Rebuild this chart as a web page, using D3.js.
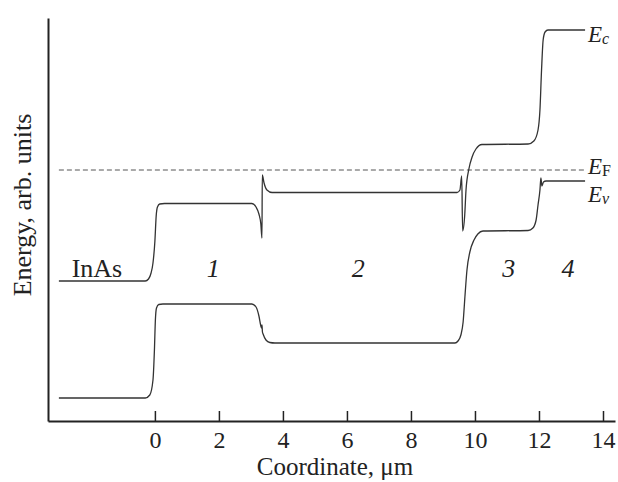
<!DOCTYPE html>
<html>
<head>
<meta charset="utf-8">
<script src="https://cdn.jsdelivr.net/npm/d3@7"></script>
<style>
  body { margin: 0; background: #fff; }
  svg text { font-family: "Liberation Serif", "Times New Roman", serif; fill: #222; }
  .band { fill: none; stroke: #333; stroke-width: 1.3; }
  .fermi { fill: none; stroke: #555; stroke-width: 1; stroke-dasharray: 5,3; }
</style>
</head>
<body>
<div id="chart"></div>
<script>
// conduction band edge, [coordinate um, energy arb. units]
var ecPoints = [
  [-3.0, 1.40], [-0.3, 1.40], [-0.2, 1.42], [-0.12, 1.48], [-0.06, 1.58],
  [0.0, 1.80], [0.04, 2.05], [0.08, 2.14], [0.15, 2.17], [0.3, 2.175],
  [3.03, 2.175], [3.16, 2.14], [3.25, 2.07], [3.31, 1.97], [3.345, 1.83],
  [3.355, 2.46], [3.41, 2.38], [3.5, 2.31], [3.66, 2.285],
  [9.44, 2.285], [9.53, 2.31], [9.585, 2.45], [9.615, 1.90],
  [9.68, 2.06], [9.72, 2.31], [9.81, 2.52], [9.91, 2.64], [10.03, 2.72],
  [10.22, 2.765], [11.66, 2.77], [11.84, 2.80], [11.97, 2.91], [12.03, 3.11],
  [12.08, 3.51], [12.13, 3.81], [12.19, 3.89], [12.28, 3.91], [13.44, 3.91]
];

// valence band edge
var evPoints = [
  [-3.0, 0.23], [-0.3, 0.23], [-0.16, 0.26], [-0.06, 0.41], [-0.015, 0.71],
  [0.015, 1.01], [0.05, 1.13], [0.12, 1.165], [0.25, 1.17],
  [3.03, 1.17], [3.16, 1.14], [3.25, 1.05], [3.31, 0.95], [3.33, 0.93],
  [3.345, 0.96], [3.36, 0.89], [3.38, 0.87], [3.47, 0.81], [3.59, 0.785], [3.75, 0.78],
  [9.375, 0.78], [9.47, 0.80], [9.56, 0.86], [9.63, 0.99], [9.69, 1.26],
  [9.75, 1.51], [9.84, 1.69], [9.97, 1.81], [10.09, 1.87], [10.25, 1.90],
  [11.66, 1.905], [11.81, 1.93], [11.91, 2.01], [11.97, 2.16], [12.03, 2.31],
  [12.06, 2.43], [12.09, 2.35], [12.14, 2.39], [12.22, 2.40], [13.44, 2.40]
];

var fermiLevel = 2.51;
var fermiRange = [-3.0, 13.44];

var xTicks = [0, 2, 4, 6, 8, 10, 12, 14];

// layer labels: text, coordinate, energy
var layerLabels = [
  { text: "InAs", x: -2.6, y: 1.44, italic: false },
  { text: "1", x: 1.62, y: 1.44, italic: true },
  { text: "2", x: 6.15, y: 1.44, italic: true },
  { text: "3", x: 10.85, y: 1.44, italic: true },
  { text: "4", x: 12.7, y: 1.44, italic: true }
];

// band edge labels: subscript, energy of the baseline
var edgeLabels = [
  { sub: "c", subItalic: true, y: 3.79 },
  { sub: "F", subItalic: false, y: 2.47 },
  { sub: "v", subItalic: true, y: 2.19 }
];

document.addEventListener('DOMContentLoaded', function() {
  drawChart();
});

function drawChart() {
  var width = 618, height = 482;

  var x = d3.scaleLinear().domain([-3.34, 14.375]).range([48, 615]);
  var y = d3.scaleLinear().domain([0, 4.03]).range([421, 18]);

  var svg = d3.select("#chart")
    .append("svg")
    .attr("width", width)
    .attr("height", height);

  var bandLine = d3.line()
    .x(function(d) { return x(d[0]); })
    .y(function(d) { return y(d[1]); })
    .curve(d3.curveMonotoneX);

  // Fermi level
  svg.append("line")
    .attr("class", "fermi")
    .attr("x1", x(fermiRange[0]))
    .attr("x2", x(fermiRange[1]))
    .attr("y1", y(fermiLevel))
    .attr("y2", y(fermiLevel));

  // band edges
  svg.append("path").datum(ecPoints).attr("class", "band").attr("d", bandLine);
  svg.append("path").datum(evPoints).attr("class", "band").attr("d", bandLine);

  // X axis, ticks pointing inward
  var xAxis = svg.append("g")
    .attr("transform", "translate(0," + y(0) + ")")
    .call(d3.axisBottom(x).tickValues(xTicks).tickSizeInner(-10).tickSizeOuter(0).tickPadding(10));
  xAxis.select(".domain").attr("stroke", "#222").attr("stroke-width", 2);
  xAxis.selectAll(".tick line").attr("stroke", "#222").attr("stroke-width", 1.5);
  xAxis.selectAll(".tick text")
    .style("font-family", '"Liberation Serif", serif')
    .style("font-size", "24px")
    .attr("fill", "#222");

  // Y axis, no ticks
  var yAxis = svg.append("g")
    .attr("transform", "translate(" + x.range()[0] + ",0)")
    .call(d3.axisLeft(y).tickValues([]).tickSizeOuter(0));
  yAxis.select(".domain").attr("stroke", "#222").attr("stroke-width", 2);

  svg.append("text")      // x-axis label
    .attr("x", 335)
    .attr("y", 475)
    .style("text-anchor", "middle")
    .style("font-size", "25px")
    .text("Coordinate, \u03bcm");

  svg.append("text")      // y-axis label
    .attr("transform", "translate(31,205) rotate(-90)")
    .style("text-anchor", "middle")
    .style("font-size", "26px")
    .text("Energy, arb. units");

  // layer numbers
  svg.selectAll(".layer")
    .data(layerLabels)
    .enter().append("text")
    .attr("class", "layer")
    .attr("x", function(d) { return x(d.x); })
    .attr("y", function(d) { return y(d.y); })
    .style("font-size", "26px")
    .style("font-style", function(d) { return d.italic ? "italic" : "normal"; })
    .text(function(d) { return d.text; });

  // band edge labels
  var edge = svg.selectAll(".edge")
    .data(edgeLabels)
    .enter().append("text")
    .attr("class", "edge")
    .attr("x", 588)
    .attr("y", function(d) { return y(d.y); })
    .style("font-size", "23px");
  edge.append("tspan").style("font-style", "italic").text("E");
  edge.append("tspan")
    .attr("dy", 2)
    .style("font-size", "16px")
    .style("font-style", function(d) { return d.subItalic ? "italic" : "normal"; })
    .text(function(d) { return d.sub; });
}
</script>
</body>
</html>
